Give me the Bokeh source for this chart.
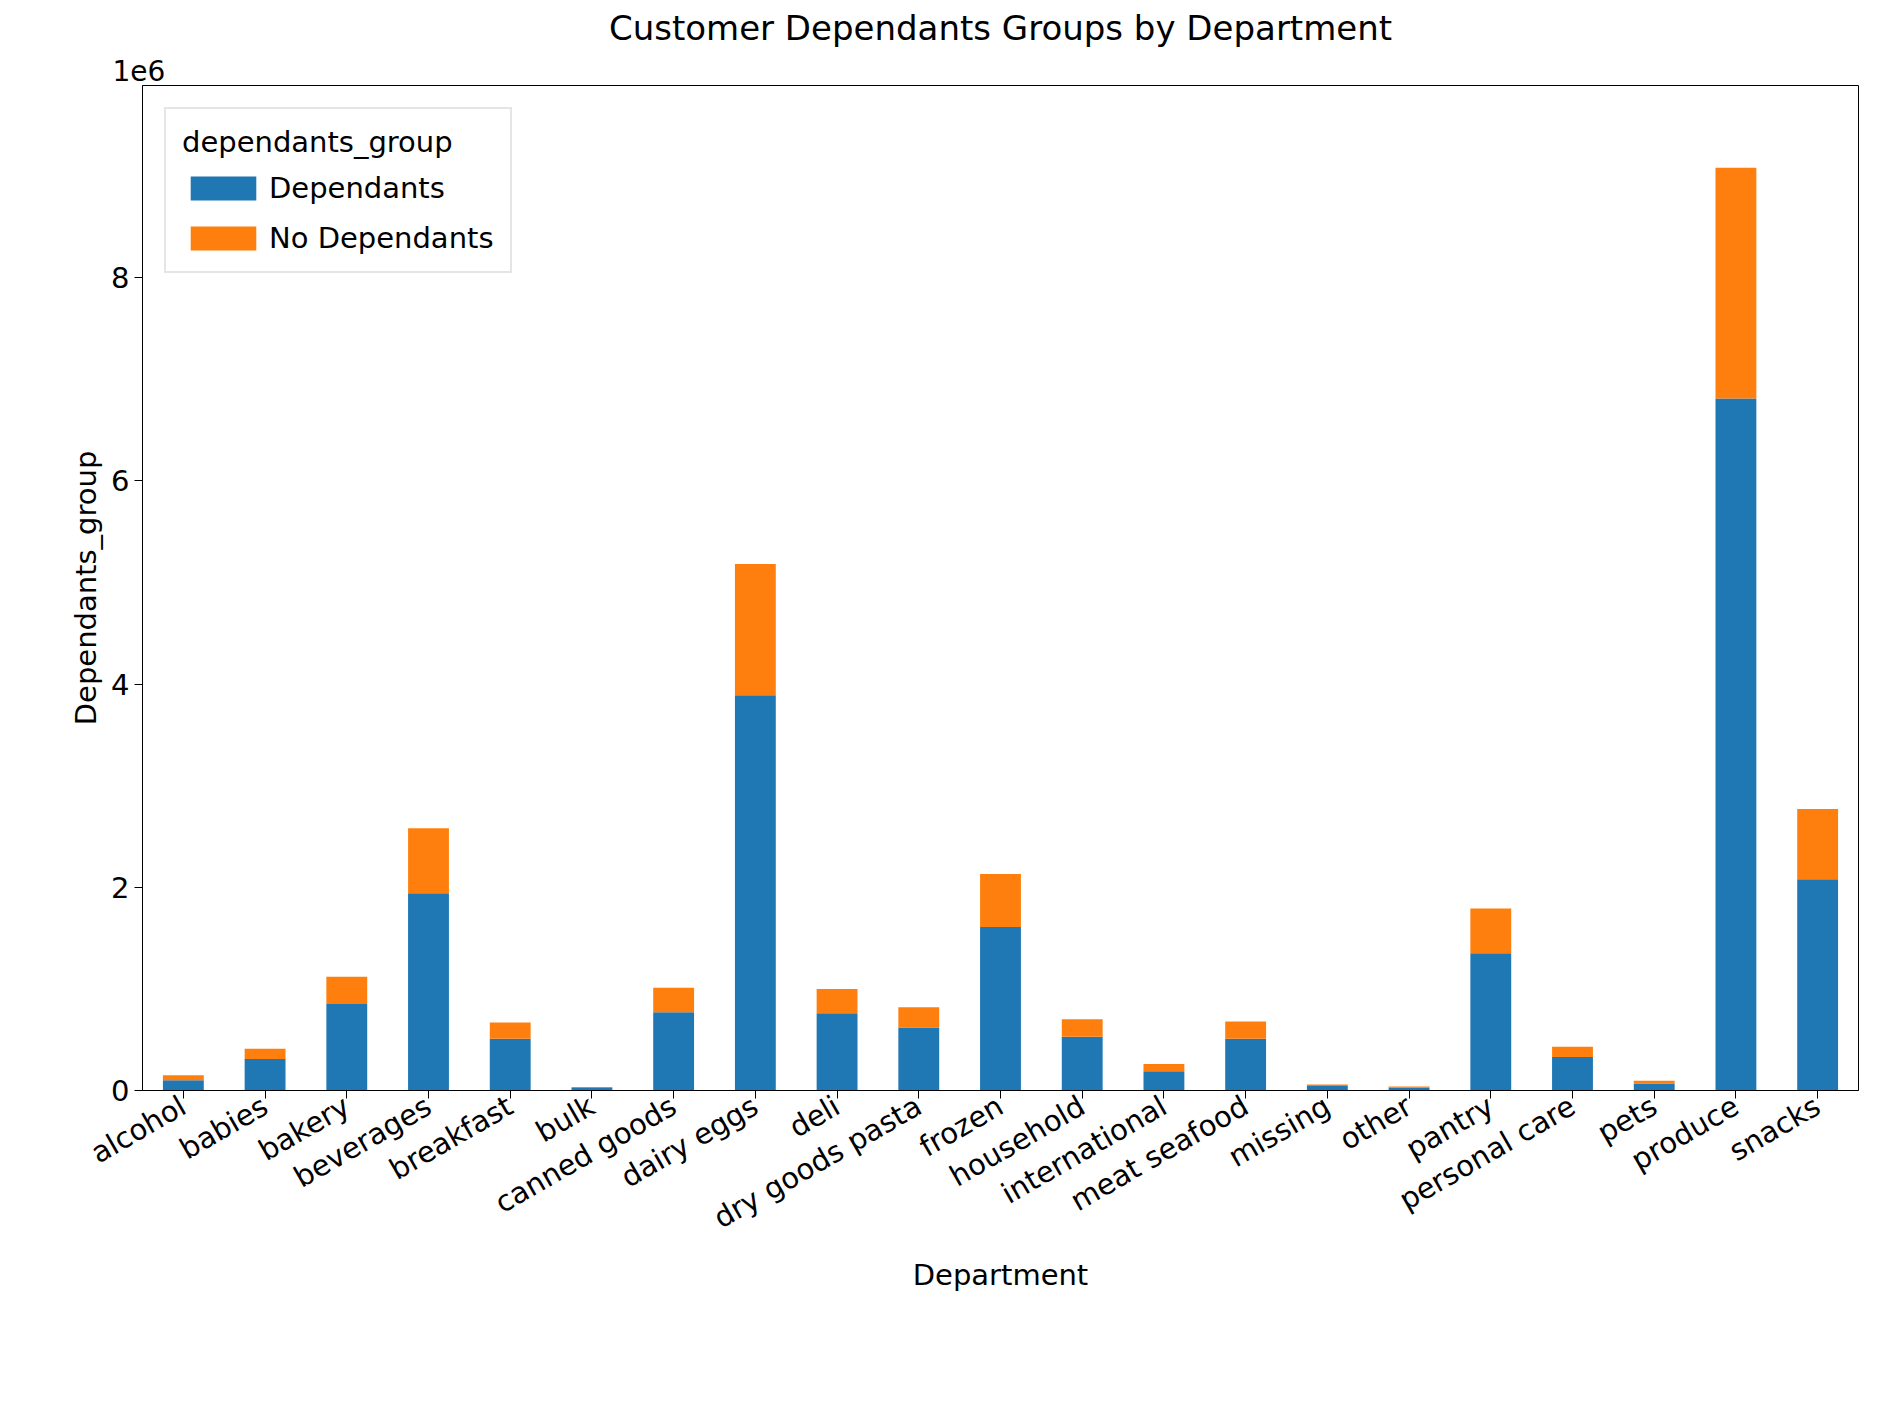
import math
from bokeh.plotting import figure
from bokeh.models import ColumnDataSource, Title, Legend, LegendItem, FixedTicker
from bokeh.embed import file_html
from bokeh.resources import INLINE

departments = ["alcohol","babies","bakery","beverages","breakfast","bulk","canned goods","dairy eggs","deli","dry goods pasta","frozen","household","international","meat seafood","missing","other","pantry","personal care","pets","produce","snacks"]
# values in millions
dependants = [0.10,0.31,0.85,1.94,0.51,0.025,0.77,3.89,0.76,0.62,1.61,0.53,0.19,0.51,0.045,0.03,1.35,0.33,0.07,6.81,2.08]
no_dependants = [0.05,0.10,0.27,0.64,0.16,0.01,0.24,1.29,0.24,0.20,0.52,0.17,0.07,0.17,0.015,0.01,0.44,0.10,0.025,2.27,0.69]

src = ColumnDataSource(dict(dept=departments, dep=dependants, nodep=no_dependants))

p = figure(x_range=departments, y_range=(0, 9.89), width=1872, height=1390,
           output_backend="svg", toolbar_location=None,
           min_border_left=142, min_border_right=14, min_border_top=10, min_border_bottom=300)
r = p.vbar_stack(["dep", "nodep"], x="dept", width=0.5, source=src,
                 color=["#1f77b4", "#ff7f0e"], line_color=None)
p.add_layout(Title(text="1e6", align="left", text_font="DejaVu Sans", text_font_size="28px",
                   text_font_style="normal", text_color="black", offset=-30), "above")
p.add_layout(Title(text="Customer Dependants Groups by Department", align="center",
                   text_font="DejaVu Sans", text_font_size="34px",
                   text_font_style="normal", text_color="black"), "above")
p.xgrid.visible = False
p.ygrid.visible = False
p.outline_line_color = "black"
p.yaxis.ticker = FixedTicker(ticks=[0, 2, 4, 6, 8])
p.x_range.range_padding = 0.0
for ax in (p.xaxis[0], p.yaxis[0]):
    ax.major_label_text_font = "DejaVu Sans"
    ax.major_label_text_font_size = "29px"
    ax.major_label_text_color = "black"
    ax.axis_label_text_font = "DejaVu Sans"
    ax.axis_label_text_font_size = "29px"
    ax.axis_label_text_color = "black"
    ax.axis_label_text_font_style = "normal"
    ax.minor_tick_line_color = None
    ax.major_tick_out = 8
    ax.major_tick_in = 0
    ax.axis_line_color = "black"
    ax.major_tick_line_color = "black"
p.xaxis.axis_label = "Department"
p.yaxis.axis_label = "Dependants_group"
p.xaxis.major_label_orientation = math.pi / 6
legend = Legend(items=[LegendItem(label="Dependants", renderers=[r[0]]),
                       LegendItem(label="No Dependants", renderers=[r[1]])],
                location="top_left", title="dependants_group",
                title_text_font="DejaVu Sans", title_text_font_size="29px",
                title_text_font_style="normal", title_text_color="black",
                label_text_font="DejaVu Sans", label_text_font_size="29px",
                label_text_color="black",
                glyph_width=82, glyph_height=30, border_line_color="#cccccc",
                border_line_width=2, padding=16, spacing=16, margin=22, title_standoff=12)
p.add_layout(legend)
open("out.html", "w").write(file_html(p, INLINE))
